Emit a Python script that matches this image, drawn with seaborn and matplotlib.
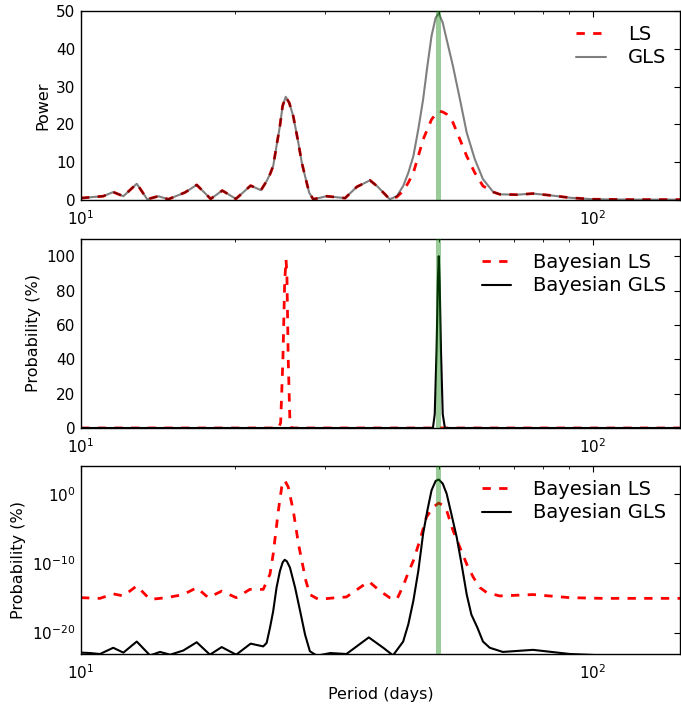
import numpy as np
import pandas as pd
import matplotlib
matplotlib.use("Agg")
import matplotlib.pyplot as plt
import matplotlib.ticker as mticker
import seaborn as sns

# ---------------- data ----------------
top_period = [10.0, 10.57, 11.05, 11.56, 12.10, 12.85, 13.47, 14.16, 14.81, 15.97,
              16.83, 17.92, 18.88, 20.07, 21.45, 22.47, 23.05, 23.4, 23.74, 24.1,
              24.47, 24.77, 25.12, 25.52, 25.98, 26.58, 27.0, 27.4, 27.92, 28.43,
              30.2, 32.8, 34.6, 36.7, 38.0, 40.1, 41.4, 42.6, 43.6, 44.6,
              45.6, 46.6, 47.5, 48.4, 49.3, 50.0, 50.9, 51.8, 53.3, 55.0,
              56.7, 58.8, 61.0, 63.9, 65.8, 71.0, 76.4, 83.0, 90.2, 100.0,
              120.0, 148.0]
top_gls = [0.5, 0.8, 1.0, 2.1, 1.0, 4.3, 0.2, 1.0, 0.2, 2.0,
           4.0, 0.3, 2.5, 0.3, 3.8, 2.6, 5.0, 6.8, 9.0, 14.3,
           19.6, 24.9, 27.3, 25.7, 22.2, 15.2, 9.9, 6.3, 1.9, 0.2,
           1.0, 0.5, 3.5, 5.2, 3.5, 0.2, 1.0, 3.7, 7.2, 11.6,
           18.7, 26.6, 35.4, 43.4, 48.2, 49.4, 46.9, 42.5, 35.4, 26.6,
           17.8, 10.8, 5.5, 2.1, 1.5, 1.4, 1.7, 1.2, 0.6, 0.2,
           0.1, 0.1]
top_ls = [0.5, 0.8, 1.0, 2.1, 1.0, 4.3, 0.2, 1.0, 0.2, 2.0,
          4.0, 0.3, 2.5, 0.3, 3.8, 2.6, 5.0, 6.8, 9.0, 14.3,
          19.6, 24.9, 27.3, 25.7, 22.2, 15.2, 9.9, 6.3, 1.9, 0.2,
          1.0, 0.5, 3.5, 5.2, 3.5, 0.2, 0.8, 2.4, 4.6, 7.2,
          11.6, 16.0, 18.7, 21.3, 22.7, 23.5, 23.3, 22.7, 20.5, 16.0,
          11.6, 7.2, 3.7, 2.1, 1.5, 1.4, 1.7, 1.2, 0.6, 0.2,
          0.1, 0.1]

mid_ls_period = [10.0, 24.3, 24.55, 24.8, 25.0, 25.15, 25.25, 25.4, 25.6, 25.8, 148.0]
mid_ls = [0, 0, 3, 40, 85, 98, 90, 40, 3, 0, 0]
mid_gls_period = [10.0, 48.7, 49.1, 49.5, 49.8, 50.0, 50.2, 50.5, 50.9, 51.4, 148.0]
mid_gls = [0, 0, 8, 45, 85, 100, 85, 45, 8, 0, 0]

bot_ls_period = [10.0, 10.89, 11.56, 12.1, 12.85, 13.64, 14.7, 15.84, 16.83, 17.73,
                 18.83, 20.1, 21.38, 22.7, 23.4, 23.74, 24.3, 24.67, 25.0, 25.4,
                 25.98, 26.6, 27.0, 27.5, 28.0, 29.1, 31.0, 33.0, 36.5, 38.4,
                 40.1, 41.4, 42.6, 43.6, 44.6, 45.9, 47.3, 48.76, 50.0, 50.9,
                 51.8, 53.3, 55.0, 56.7, 58.4, 60.2, 62.0, 65.8, 76.4, 90.2,
                 104.8, 148.0]
bot_ls_log10 = [-14.95, -15.05, -14.4, -14.7, -13.25, -15.2, -14.95, -14.5, -13.5, -14.95,
                -14.0, -14.95, -13.75, -13.75, -11.55, -8.64, -2.33, 1.07, 2.04, 1.07,
                -2.33, -7.18, -9.6, -12.5, -14.5, -15.2, -15.0, -14.85, -12.6, -14.0,
                -14.95, -15.2, -13.25, -11.3, -9.6, -6.7, -3.3, -1.85, -1.26, -1.6,
                -2.33, -5.2, -7.7, -10.1, -12.0, -13.5, -14.2, -14.7, -14.5, -14.95,
                -15.05, -15.05]
bot_gls_period = [10.0, 10.41, 10.89, 11.56, 12.1, 12.85, 13.64, 14.27, 14.93, 15.84,
                  16.83, 17.86, 18.83, 20.1, 21.45, 22.7, 23.05, 23.4, 23.74, 24.1,
                  24.47, 24.77, 25.0, 25.25, 25.6, 26.2, 26.8, 27.4, 28.0, 28.9,
                  30.7, 33.0, 36.5, 38.95, 40.7, 42.6, 43.6, 44.6, 45.6, 46.6,
                  47.5, 48.4, 49.3, 50.0, 50.9, 51.8, 52.9, 54.2, 55.4, 56.7,
                  57.9, 59.5, 61.0, 62.9, 66.7, 76.4, 90.2, 104.8, 148.0]
bot_gls_log10 = [-22.9, -22.96, -23.1, -22.2, -22.9, -21.3, -23.3, -22.8, -23.2, -22.6,
                 -21.4, -23.2, -22.1, -23.2, -21.6, -22.0, -21.5, -19.3, -16.9, -13.5,
                 -11.1, -9.85, -9.47, -9.7, -10.6, -13.5, -16.9, -20.3, -22.7, -23.35,
                 -22.96, -23.1, -20.7, -22.2, -23.3, -21.3, -18.8, -15.4, -11.1, -5.7,
                 -2.33, 0.58, 1.94, 2.14, 1.55, 0.1, -2.8, -6.2, -10.1, -14.5,
                 -17.4, -19.3, -21.3, -22.2, -22.8, -22.5, -23.1, -23.3, -23.3]

band_lo, band_hi = 49.4, 50.6
x_min, x_max = 10.0, 148.0

# ---------------- style ----------------
sns.set_style("white")
plt.rcParams.update({
    "font.family": ["DejaVu Sans"],
    "mathtext.fontset": "dejavusans",
    "text.color": "black",
    "axes.labelcolor": "black",
    "xtick.color": "black",
    "ytick.color": "black",
    "axes.edgecolor": "black",
    "axes.linewidth": 1.0,
    "xtick.direction": "in",
    "ytick.direction": "in",
    "xtick.major.size": 4,
    "ytick.major.size": 4,
    "xtick.minor.size": 2,
    "ytick.minor.size": 2,
    "xtick.major.pad": 6.5,
    "ytick.major.pad": 4,
    "xtick.labelsize": 11,
    "ytick.labelsize": 11,
    "axes.labelsize": 11.5,
    "legend.fontsize": 14,
})

fig = plt.figure(figsize=(6.81, 7.06), dpi=100)
L, R = 81 / 681, 680 / 681
W = R - L
def ax_at(top_px, bot_px):
    return fig.add_axes([L, 1 - bot_px / 706, W, (bot_px - top_px) / 706])

ax1 = ax_at(11, 200)
ax2 = ax_at(239, 428)
ax3 = ax_at(466, 654)

red_dash = (0, (3, 3))

# top panel
df_top = pd.DataFrame({"period": top_period, "LS": top_ls, "GLS": top_gls})
sns.lineplot(data=df_top, x="period", y="LS", ax=ax1, color="red", lw=2,
             linestyle=red_dash, label="LS", estimator=None, sort=False)
sns.lineplot(data=df_top, x="period", y="GLS", ax=ax1, color="black", alpha=0.5,
             lw=1.5, label="GLS", estimator=None, sort=False)
ax1.set_ylim(0, 50)
ax1.set_yticks([0, 10, 20, 30, 40, 50])
ax1.set_ylabel("Power")

# middle panel
df_mls = pd.DataFrame({"period": mid_ls_period, "p": mid_ls})
df_mgls = pd.DataFrame({"period": mid_gls_period, "p": mid_gls})
sns.lineplot(data=df_mls, x="period", y="p", ax=ax2, color="red", lw=2,
             linestyle=red_dash, label="Bayesian LS", estimator=None, sort=False)
sns.lineplot(data=df_mgls, x="period", y="p", ax=ax2, color="black", lw=1.5,
             label="Bayesian GLS", estimator=None, sort=False)
ax2.set_ylim(0, 110)
ax2.set_yticks([0, 20, 40, 60, 80, 100])
ax2.set_ylabel("Probability (%)")

# bottom panel
df_bls = pd.DataFrame({"period": bot_ls_period, "p": 10.0 ** np.array(bot_ls_log10)})
df_bgls = pd.DataFrame({"period": bot_gls_period, "p": 10.0 ** np.array(bot_gls_log10)})
sns.lineplot(data=df_bls, x="period", y="p", ax=ax3, color="red", lw=2,
             linestyle=red_dash, label="Bayesian LS", estimator=None, sort=False)
sns.lineplot(data=df_bgls, x="period", y="p", ax=ax3, color="black", lw=1.5,
             label="Bayesian GLS", estimator=None, sort=False)
ax3.set_yscale("log")
ax3.set_ylim(10 ** -23.1, 10 ** 4.1)
ax3.yaxis.set_major_locator(mticker.FixedLocator([1e-20, 1e-10, 1e0]))
ax3.yaxis.set_major_formatter(mticker.LogFormatterSciNotation())
ax3.yaxis.set_minor_locator(mticker.NullLocator())
ax3.set_ylabel("Probability (%)")
ax3.set_xlabel("Period (days)")

for ax in (ax1, ax2, ax3):
    ax.axvspan(band_lo, band_hi, color=(0, 0.5, 0), alpha=0.4, lw=0, zorder=3)
    ax.set_xscale("log")
    ax.set_xlim(x_min, x_max)
    ax.xaxis.set_minor_formatter(mticker.NullFormatter())
    ax.tick_params(which="both", top=True, right=True, direction="in")
    if ax is not ax3:
        ax.set_xlabel("")
    ax.legend(loc="upper right", frameon=False, handlelength=1.5,
              handletextpad=1.15, labelspacing=0.25, borderaxespad=0.3,
              borderpad=0.4)
    for s in ax.spines.values():
        s.set_visible(True)
        s.set_color("black")

fig.savefig("out.png", dpi=100)
